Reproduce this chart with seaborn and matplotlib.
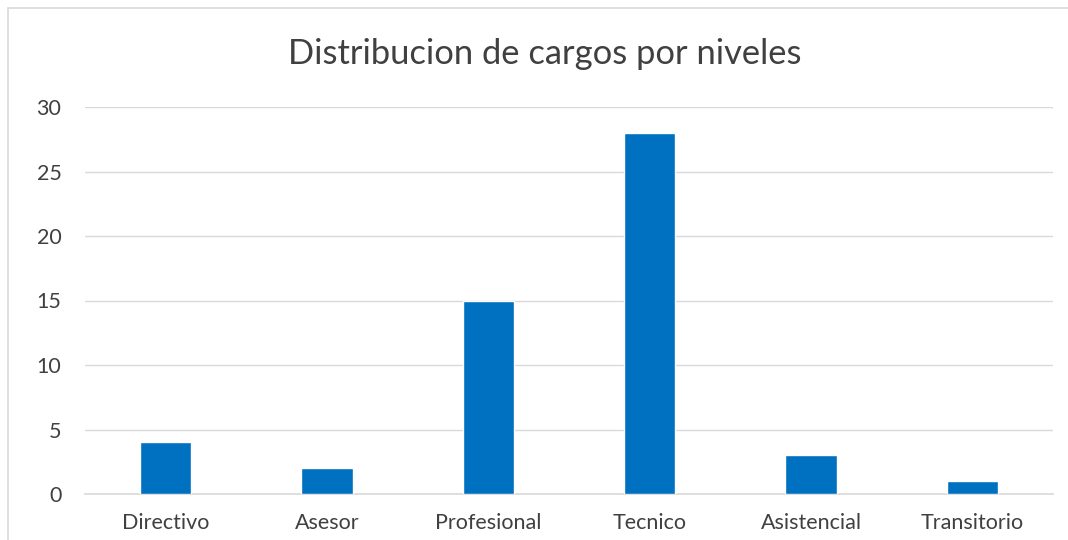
import matplotlib
matplotlib.use("Agg")
import matplotlib.pyplot as plt
import seaborn as sns
import pandas as pd
from matplotlib.patches import Rectangle

# Chart data
niveles = ["Directivo", "Asesor", "Profesional", "Tecnico", "Asistencial", "Transitorio"]
cargos = [4, 2, 15, 28, 3, 1]
y_ticks = [0, 5, 10, 15, 20, 25, 30]

BAR_COLOR = "#0070C0"
TEXT_COLOR = "#404040"
GRID_COLOR = "#D9D9D9"

sns.set_style("white")
plt.rcParams["font.family"] = ["Lato", "DejaVu Sans"]

df = pd.DataFrame({"Nivel": niveles, "Cargos": cargos})

fig = plt.figure(figsize=(10.68, 5.40), dpi=100)
ax = fig.add_axes([85 / 1068, 46 / 540, 968 / 1068, 387 / 540])

sns.barplot(data=df, x="Nivel", y="Cargos", color=BAR_COLOR, width=0.32,
            saturation=1, ax=ax, zorder=3)

ax.set_ylim(0, 30)
ax.set_xlim(-0.5, len(niveles) - 0.5)
ax.set_yticks(y_ticks)
ax.yaxis.grid(True, color=GRID_COLOR, linewidth=1, zorder=0)
ax.set_axisbelow(True)
for side in ["top", "right", "left"]:
    ax.spines[side].set_visible(False)
ax.spines["bottom"].set_color(GRID_COLOR)
ax.spines["bottom"].set_linewidth(1.2)
ax.tick_params(axis="both", length=0, labelsize=15.5, colors=TEXT_COLOR)
ax.tick_params(axis="x", pad=14)
ax.tick_params(axis="y", pad=17)
ax.set_xlabel("")
ax.set_ylabel("")

fig.text(0.510, 0.900, "Distribucion de cargos por niveles", ha="center", va="center",
         fontsize=24.8, color=TEXT_COLOR)

# chart area border (left and top edges visible)
fig.patches.append(Rectangle((8 / 1068, -0.1), 1.2, 1.1 - 8 / 540,
                             transform=fig.transFigure, fill=False,
                             edgecolor=GRID_COLOR, linewidth=1.2))

fig.savefig("out.png", dpi=100)
